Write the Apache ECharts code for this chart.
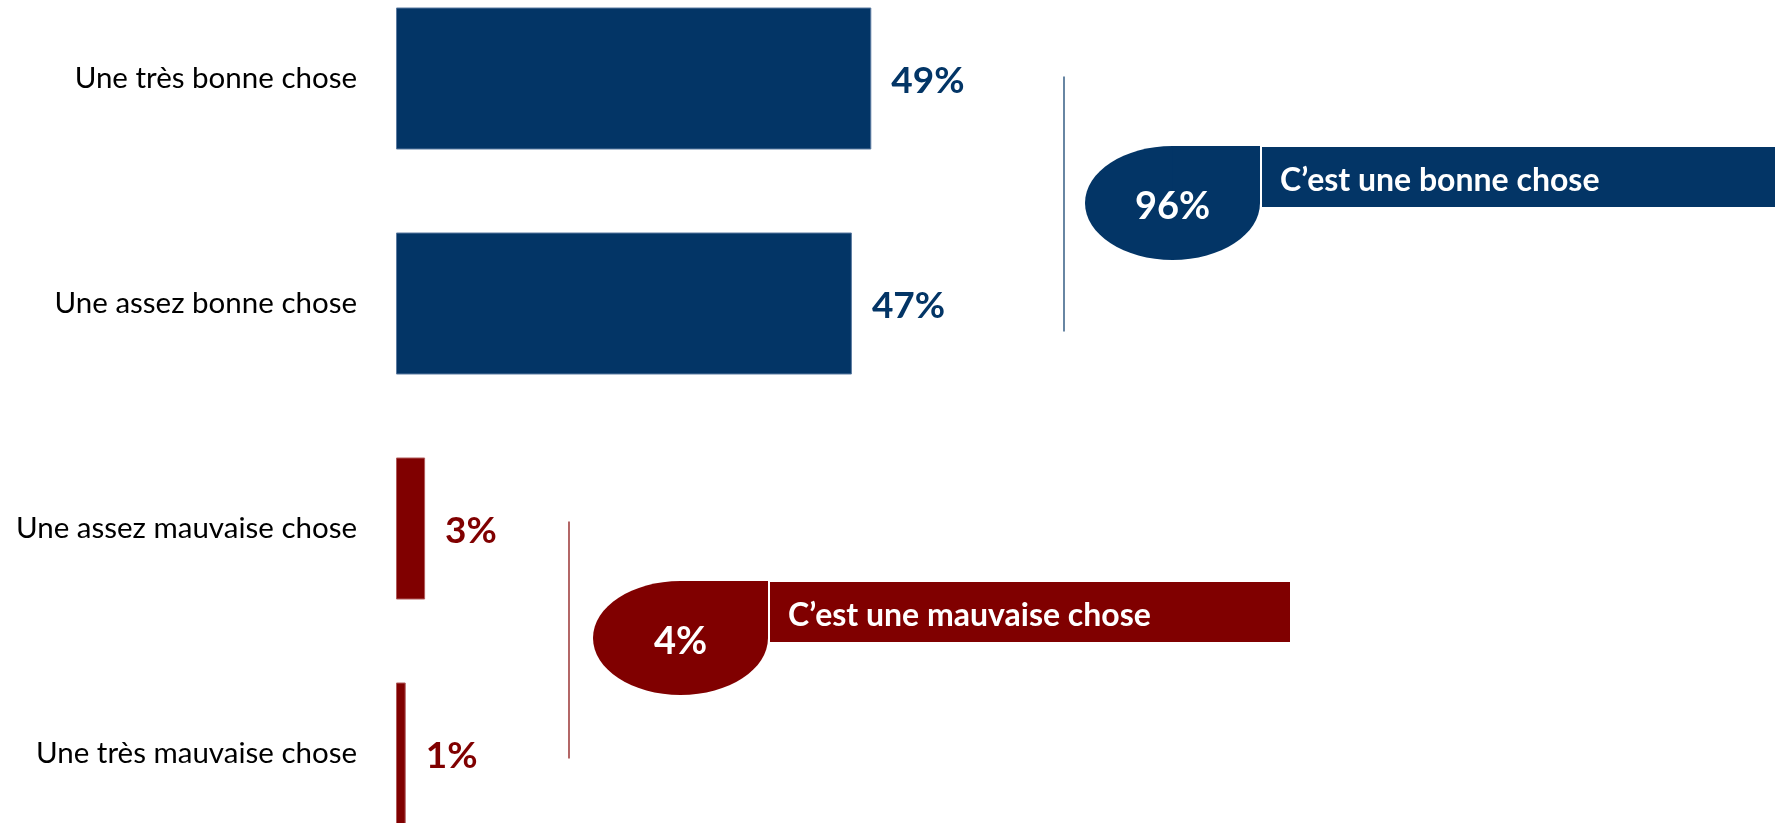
<!DOCTYPE html>
<html>
<head>
<meta charset="utf-8">
<script src="https://cdn.jsdelivr.net/npm/echarts@6/dist/echarts.min.js"></script>
<style>
html,body{margin:0;padding:0;background:#fff;}
#chart{width:1775px;height:823px;}
</style>
</head>
<body>
<div id="chart"></div>
<script>
// ---- Data ----
const categories = ['Une très bonne chose', 'Une assez bonne chose', 'Une assez mauvaise chose', 'Une très mauvaise chose'];
const values = [49, 47, 3, 1];
const barGroup = [0, 0, 1, 1];            // 0 = positive, 1 = negative
const groupLabels = ['C\u2019est une bonne chose', 'C\u2019est une mauvaise chose'];
const groupTotals = [96, 4];
const groupFirst = [0, 2];
const groupLast = [1, 3];

// ---- Styles / layout (not data) ----
const groupColors = ['#033566', '#800000'];
const groupBorder = ['#5b7aa0', '#b05a5a'];
const FONT = 'Lato';
const annot = [
  { lineX: 1064, lineTopPad: -2, lineBotPad: 28, bubbleLeft: 1085, bubbleDy: 12, bannerW: 520 },
  { lineX: 569,  lineTopPad: -7, lineBotPad: 5,  bubbleLeft: 593,  bubbleDy: -3, bannerW: 520 }
];
const BUBBLE_W = 175, BUBBLE_H = 114, BANNER_H = 60;

const chart = echarts.init(document.getElementById('chart'), null, { renderer: 'canvas' });

const barData = values.map((v, i) => ({
  value: v,
  itemStyle: { color: groupColors[barGroup[i]], borderColor: groupBorder[barGroup[i]], borderWidth: 1 },
  label: { color: groupColors[barGroup[i]] }
}));

const annotData = groupTotals.map((t, g) => [groupFirst[g], groupLast[g], t]);

function renderAnnot(params, api) {
  const g = params.dataIndex;
  const L = annot[g];
  const first = api.value(0), last = api.value(1), total = api.value(2);
  const y0 = api.coord([0, first])[1];
  const y1 = api.coord([0, last])[1];
  const mid = (y0 + y1) / 2;
  const color = groupColors[g];
  const cx = L.bubbleLeft + BUBBLE_W / 2;
  const cy = mid + L.bubbleDy;
  const top = cy - BUBBLE_H / 2;
  const right = L.bubbleLeft + BUBBLE_W;
  const bannerTop = top + 1;
  return {
    type: 'group',
    children: [
      { type: 'line', shape: { x1: L.lineX, y1: y0 + L.lineTopPad, x2: L.lineX, y2: y1 + L.lineBotPad },
        style: { stroke: color, lineWidth: 1.2 } },
      { type: 'ellipse', shape: { cx: cx, cy: cy, rx: BUBBLE_W / 2, ry: BUBBLE_H / 2 }, style: { fill: color } },
      { type: 'rect', shape: { x: cx, y: top, width: BUBBLE_W / 2, height: BUBBLE_H / 2 }, style: { fill: color } },
      { type: 'rect', shape: { x: right + 2, y: bannerTop, width: L.bannerW, height: BANNER_H }, style: { fill: color } },
      { type: 'text', x: cx, y: cy + 4,
        style: { text: total + '%', fill: '#fff', font: 'bold 38px ' + FONT, align: 'center', verticalAlign: 'middle' } },
      { type: 'text', x: right + 20, y: bannerTop + BANNER_H / 2 + 4,
        style: { text: groupLabels[g], fill: '#fff', font: 'bold 32px ' + FONT, align: 'left', verticalAlign: 'middle' } }
    ]
  };
}

chart.setOption({
  animation: false,
  backgroundColor: '#ffffff',
  grid: { left: 396, width: 970, top: -34, height: 900, outerBoundsMode: 'none', containLabel: false },
  xAxis: { type: 'value', min: 0, max: 100, show: false },
  yAxis: {
    type: 'category', data: categories, inverse: true,
    axisLine: { show: false }, axisTick: { show: false }, splitLine: { show: false },
    axisLabel: { color: '#000', fontFamily: FONT, fontSize: 29.5, margin: 39 }
  },
  series: [
    {
      type: 'bar', data: barData, barWidth: 142,
      label: { show: true, position: 'right', distance: 20, formatter: '{c}%', offset: [0, 3],
        fontFamily: FONT, fontWeight: 'bold', fontSize: 37 }
    },
    {
      type: 'custom', data: annotData, renderItem: renderAnnot,
      encode: { y: 0, x: 2 }, clip: false, silent: true, z: 5
    }
  ]
});
</script>
</body>
</html>
